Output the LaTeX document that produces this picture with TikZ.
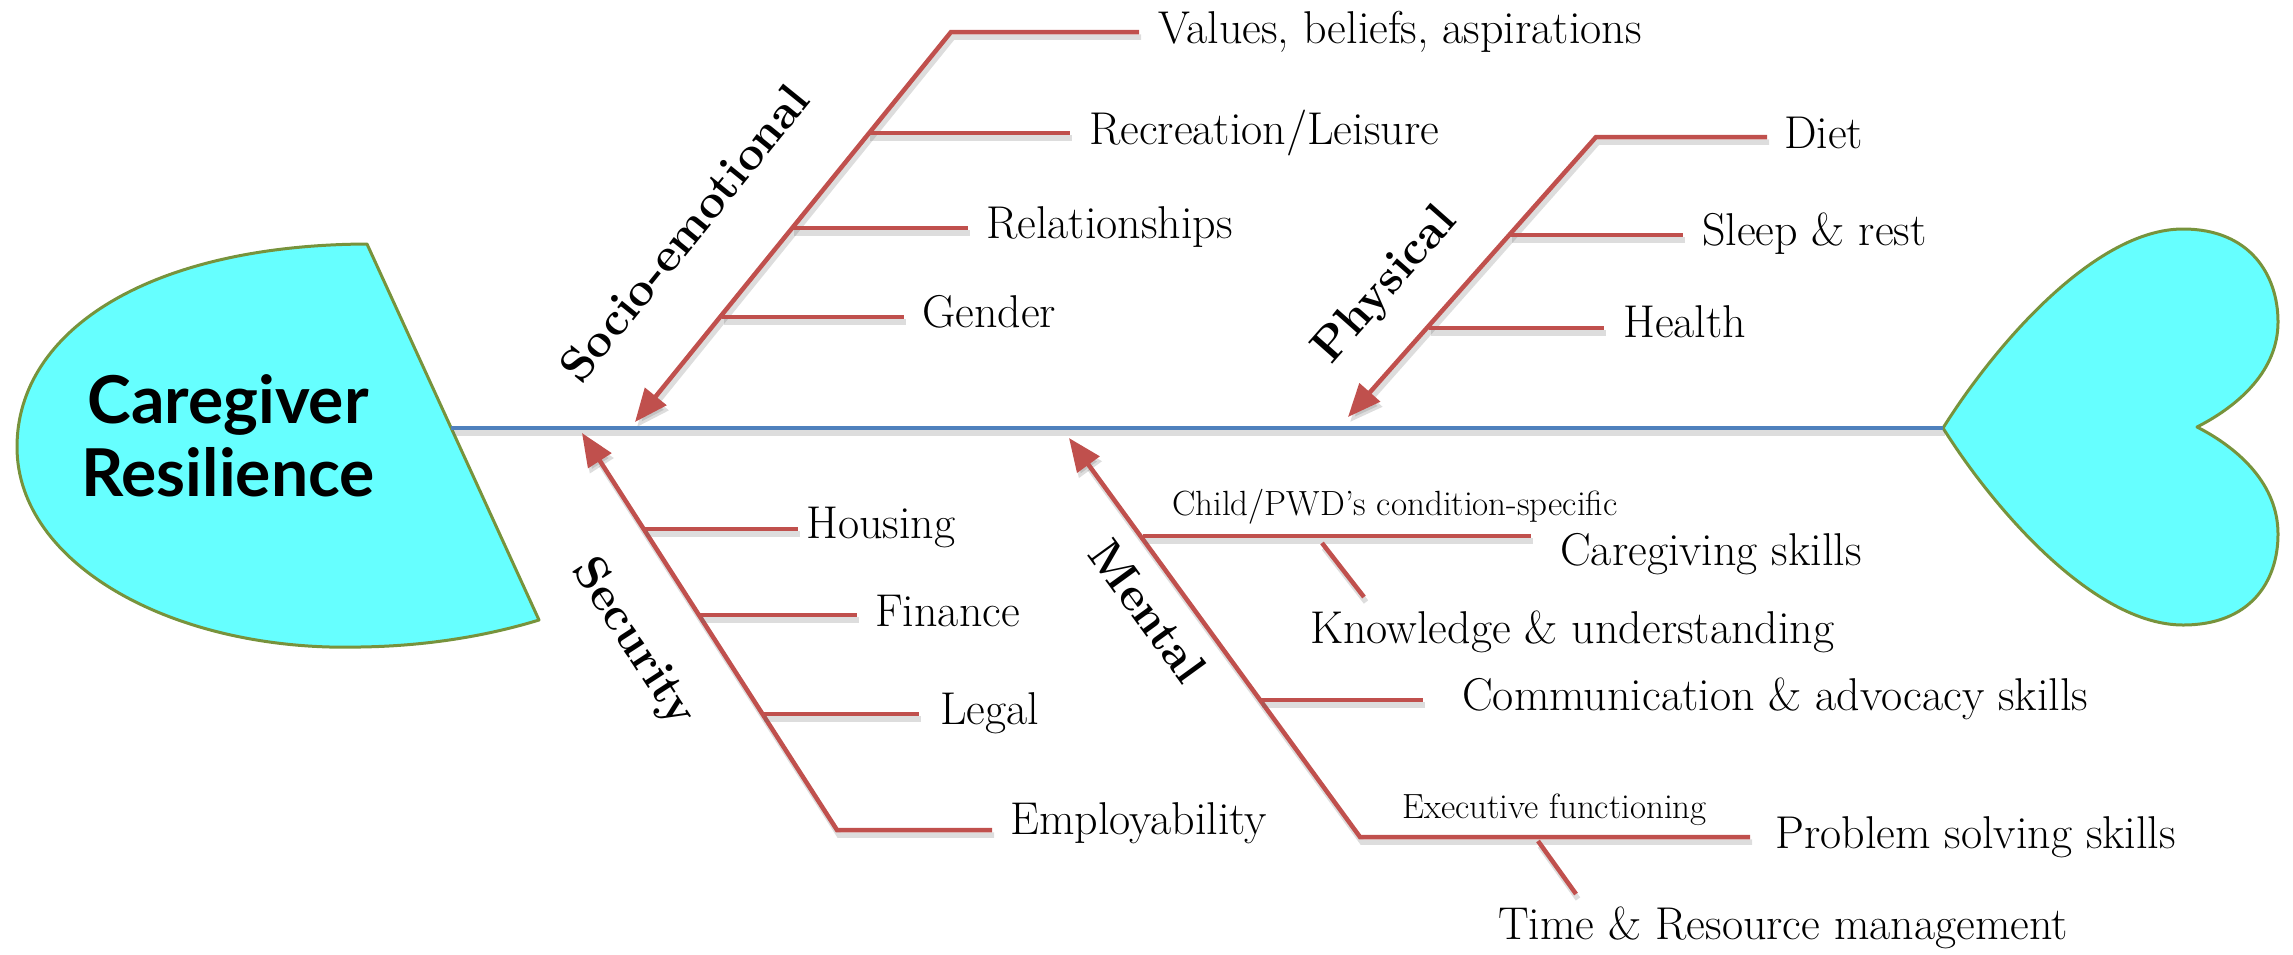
\documentclass[tikz,border=0pt]{standalone}
\usepackage{fontspec}
\newfontfamily\latofont{Lato}
\usetikzlibrary{arrows.meta}
\definecolor{bonered}{HTML}{C0504D}
\definecolor{spineblue}{HTML}{4F81BD}
\definecolor{fishcyan}{HTML}{66FFFF}
\definecolor{fishedge}{HTML}{77933C}
\tikzset{
  shad/.style={preaction={draw=black!60, opacity=0.22, line width=5.5pt, transform canvas={shift={(2,5)}}}},
  bone/.style={draw=bonered, line width=4.5pt, line join=miter, shad},
  bonearrow/.style={bone, -{Triangle[length=33pt,width=27pt]}},
  spineline/.style={draw=spineblue, line width=4.5pt, shad},
  fishpart/.style={draw=fishedge, fill=fishcyan, line width=3pt, line join=round},
  lbl/.style={font=\fontsize{46}{52}\selectfont, anchor=base west, inner sep=0pt},
  smalllbl/.style={font=\fontsize{35}{40}\selectfont, anchor=base west, inner sep=0pt},
  cat/.style={font=\fontsize{47}{52}\selectfont\bfseries, inner sep=0pt},
  headtxt/.style={font=\fontsize{66}{76}\selectfont\latofont\bfseries, anchor=base, inner sep=0pt}
}
\begin{document}
\begin{tikzpicture}[x=1pt,y=-1pt]
\useasboundingbox (0,0) rectangle (2293,954);
% head
\path[fishpart] (367,244) .. controls (150,245) and (17,330) .. (17,447)
  .. controls (17,565) and (175,652) .. (360,647)
  .. controls (430,646) and (490,635) .. (539,620) -- cycle;
% tail (heart)
\path[fishpart] (1943,428) .. controls (1995,345) and (2095,229) .. (2183,229)
  .. controls (2250,229) and (2278,275) .. (2278,322)
  .. controls (2278,370) and (2240,405) .. (2197,427)
  .. controls (2240,449) and (2278,485) .. (2278,534)
  .. controls (2278,582) and (2250,625) .. (2183,625)
  .. controls (2095,625) and (1995,511) .. cycle;
\node[headtxt] (care) at (228,423) {Caregiver};
\node[headtxt] (resil) at (228,496) {Resilience};
% spine
\coordinate (headR) at (451,428);
\coordinate (tailL) at (1943,428);
\draw[spineline] (headR) -- (tailL);
% ---------- Socio-emotional
\coordinate (soT) at (951,32);
\coordinate (soE) at (1139,32);
\coordinate (soA) at (635,422);
\draw[bonearrow] (soE) -- (soT) -- (soA);
\coordinate (so1a) at (868,133); \coordinate (so1b) at (1070,133);
\coordinate (so2a) at (792,228); \coordinate (so2b) at (968,228);
\coordinate (so3a) at (722,317); \coordinate (so3b) at (904,317);
\draw[bone] (so1a) -- (so1b);
\draw[bone] (so2a) -- (so2b);
\draw[bone] (so3a) -- (so3b);
\node[lbl] (values) at (1158,43) {Values, beliefs, aspirations};
\node[lbl] (recr) at (1089,144) {Recreation/Leisure};
\node[lbl] (rel) at (986,238) {Relationships};
\node[lbl] (gender) at (922,327) {Gender};
\node[cat, rotate=51] (socio) at (684,233) {Socio-emotional};
% ---------- Physical
\coordinate (phT) at (1596,137);
\coordinate (phE) at (1767,137);
\coordinate (phA) at (1348,417);
\draw[bonearrow] (phE) -- (phT) -- (phA);
\coordinate (ph1a) at (1510,235); \coordinate (ph1b) at (1683,235);
\coordinate (ph2a) at (1429,328); \coordinate (ph2b) at (1604,328);
\draw[bone] (ph1a) -- (ph1b);
\draw[bone] (ph2a) -- (ph2b);
\node[lbl] (diet) at (1784,148) {Diet};
\node[lbl] (sleep) at (1702,245) {Sleep \& rest};
\node[lbl] (health) at (1623,337) {Health};
\node[cat, rotate=48.5] (phys) at (1386,286) {Physical};
% ---------- Security
\coordinate (scA) at (582,433);
\coordinate (scB) at (837,830);
\coordinate (scE) at (992,830);
\draw[bonearrow] (scE) -- (scB) -- (scA);
\coordinate (sc1a) at (644,529); \coordinate (sc1b) at (798,529);
\coordinate (sc2a) at (699,615); \coordinate (sc2b) at (857,615);
\coordinate (sc3a) at (762,714); \coordinate (sc3b) at (919,714);
\draw[bone] (sc1a) -- (sc1b);
\draw[bone] (sc2a) -- (sc2b);
\draw[bone] (sc3a) -- (sc3b);
\node[lbl] (housing) at (806,538) {Housing};
\node[lbl] (finance) at (875,626) {Finance};
\node[lbl] (legal) at (940,724) {Legal};
\node[lbl] (employ) at (1010,834) {Employability};
\node[cat, rotate=-57] (secur) at (633,643) {Security};
% ---------- Mental
\coordinate (mnA) at (1069,438);
\coordinate (mnB) at (1360,837);
\coordinate (mnE) at (1750,837);
\draw[bonearrow] (mnE) -- (mnB) -- (mnA);
\coordinate (mn1a) at (1143,536); \coordinate (mn1b) at (1531,536);
\coordinate (mk1) at (1322,543); \coordinate (mk2) at (1364,597);
\coordinate (mn2a) at (1260,700); \coordinate (mn2b) at (1423,700);
\coordinate (mt1) at (1538,841); \coordinate (mt2) at (1576,894);
\draw[bone] (mn1a) -- (mn1b);
\draw[bone] (mk1) -- (mk2);
\draw[bone] (mn2a) -- (mn2b);
\draw[bone] (mt1) -- (mt2);
\node[smalllbl] (child) at (1172,515) {Child/PWD’s condition-specific};
\node[lbl] (caregiving) at (1560,565) {Caregiving skills};
\node[lbl] (knowledge) at (1310,643) {Knowledge \& understanding};
\node[lbl] (commun) at (1462,710) {Communication \& advocacy skills};
\node[smalllbl] (exec) at (1402,818) {Executive functioning};
\node[lbl] (problem) at (1775,848) {Problem solving skills};
\node[lbl] (timeres) at (1498,939) {Time \& Resource management};
\node[cat, rotate=-54] (mental) at (1148,611) {Mental};
\end{tikzpicture}
\end{document}
